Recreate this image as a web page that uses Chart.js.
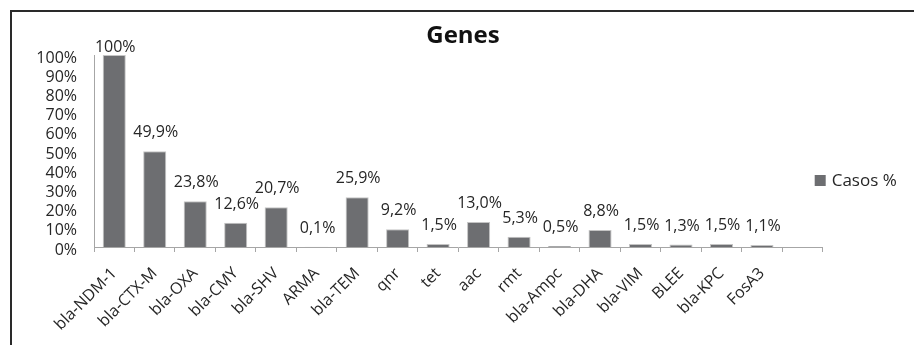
<!DOCTYPE html>
<html>
<head>
<meta charset="utf-8">
<title>Genes</title>
<script src="https://cdn.jsdelivr.net/npm/chart.js@4/dist/chart.umd.min.js"></script>
<style>
  html, body { margin: 0; padding: 0; background: #ffffff; }
  #wrap { position: relative; width: 914px; height: 345px; }
  canvas { display: block; }
</style>
</head>
<body>
<div id="wrap"><canvas id="chart" width="914" height="345"></canvas></div>
<script>
// Gene categories (last slot is left empty on the axis)
const genes = ['bla-NDM-1', 'bla-CTX-M', 'bla-OXA', 'bla-CMY', 'bla-SHV', 'ARMA', 'bla-TEM', 'qnr', 'tet', 'aac', 'rmt', 'bla-Ampc', 'bla-DHA', 'bla-VIM', 'BLEE', 'bla-KPC', 'FosA3', ''];
// Share of cases per gene, in percent
const casos = [100, 49.9, 23.8, 12.6, 20.7, 0.1, 25.9, 9.2, 1.5, 13.0, 5.3, 0.5, 8.8, 1.5, 1.3, 1.5, 1.1, null];
// Y axis tick values
const yTicks = [0, 10, 20, 30, 40, 50, 60, 70, 80, 90, 100];

const TEXT = '#262626';
const AXIS = '#a6a6a6';
const BAR = '#6d6e71';
const FONT = "'Open Sans', sans-serif";

Chart.defaults.font.family = FONT;
Chart.defaults.color = TEXT;

function pct(v) {
  return v === 100 ? '100%' : v.toFixed(1).replace('.', ',') + '%';
}

// Frame around the chart (top and left edges)
const framePlugin = {
  id: 'frame',
  afterDraw(chart) {
    const ctx = chart.ctx;
    ctx.save();
    ctx.strokeStyle = '#2a2a2a';
    ctx.lineWidth = 2;
    ctx.beginPath();
    ctx.moveTo(11, chart.height);
    ctx.lineTo(11, 11);
    ctx.lineTo(chart.width, 11);
    ctx.stroke();
    ctx.restore();
  }
};

// Value labels above each bar
const valueLabels = {
  id: 'valueLabels',
  afterDatasetsDraw(chart) {
    const ctx = chart.ctx;
    const meta = chart.getDatasetMeta(0);
    const data = chart.data.datasets[0].data;
    ctx.save();
    ctx.font = '16px ' + FONT;
    ctx.fillStyle = TEXT;
    ctx.textAlign = 'center';
    ctx.textBaseline = 'alphabetic';
    meta.data.forEach((bar, i) => {
      const v = data[i];
      if (v === null || v === undefined) return;
      const y = Math.max(bar.y - 14, chart.chartArea.top - 3);
      ctx.fillText(pct(v), bar.x + 1, y);
    });
    ctx.restore();
  }
};

// Series key to the right of the plot, built from the dataset itself
const seriesKey = {
  id: 'seriesKey',
  afterDraw(chart) {
    const ds = chart.data.datasets[0];
    const ctx = chart.ctx;
    const area = chart.chartArea;
    const x = area.right - 8;
    const cy = 181;
    ctx.save();
    ctx.fillStyle = ds.backgroundColor;
    ctx.fillRect(x, cy - 6, 11, 11);
    ctx.font = '17px ' + FONT;
    ctx.fillStyle = TEXT;
    ctx.textAlign = 'left';
    ctx.textBaseline = 'middle';
    ctx.fillText(ds.label, x + 17, cy);
    ctx.restore();
  }
};

new Chart(document.getElementById('chart'), {
  type: 'bar',
  data: {
    labels: genes,
    datasets: [{
      label: 'Casos %',
      data: casos,
      backgroundColor: BAR,
      borderColor: '#c4c4c4',
      borderWidth: 1,
      categoryPercentage: 1,
      barPercentage: 0.57
    }]
  },
  options: {
    responsive: false,
    animation: false,
    devicePixelRatio: 1,
    layout: { padding: { left: 12, top: 12, right: 0, bottom: 0 } },
    plugins: {
      title: {
        display: true,
        text: 'Genes',
        color: '#111111',
        font: { size: 24, weight: 'bold' },
        padding: { top: 10, bottom: 4.2 }
      },
      legend: { display: false },
      tooltip: { enabled: false }
    },
    scales: {
      x: {
        offset: true,
        grid: { display: true, drawOnChartArea: false, drawTicks: true, tickLength: 5, color: AXIS, offset: true },
        border: { display: true, color: AXIS, width: 1 },
        ticks: { autoSkip: false, maxRotation: 45, minRotation: 45, padding: 12, color: TEXT, font: { size: 16 } },
        afterFit(scale) { scale.height = 98; }
      },
      y: {
        min: 0,
        max: 100,
        grid: { display: false, drawTicks: false },
        border: { display: true, color: AXIS, width: 1 },
        afterBuildTicks(scale) { scale.ticks = yTicks.map(v => ({ value: v })); },
        ticks: {
          autoSkip: false,
          padding: 17,
          labelOffset: 3,
          color: TEXT,
          font: { size: 16 },
          callback: v => v + '%'
        },
        afterFit(scale) { scale.width = 82; }
      },
      // empty right-hand band that holds the series key
      keyBand: {
        type: 'linear',
        position: 'right',
        display: true,
        grid: { display: false, drawTicks: false },
        border: { display: false },
        ticks: { display: false },
        afterFit(scale) { scale.width = 91.3; }
      }
    }
  },
  plugins: [framePlugin, valueLabels, seriesKey]
});
</script>
</body>
</html>
